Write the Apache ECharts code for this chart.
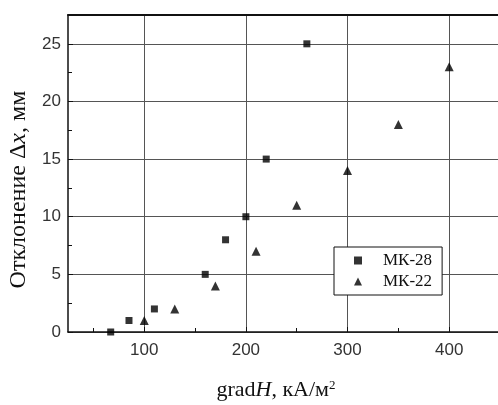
<!DOCTYPE html>
<html><head><meta charset="utf-8">
<script src="https://cdn.jsdelivr.net/npm/echarts@6/dist/echarts.min.js"></script>
<style>html,body{margin:0;padding:0;background:#fff}#c{width:498px;height:405px}</style>
</head><body><div id="c"></div>
<script>
var seriesNames = ['МК-28', 'МК-22'];
var mk28X = [67, 85, 110, 160, 180, 200, 220, 260];
var mk28Y = [0, 1, 2, 5, 8, 10, 15, 25];
var mk22X = [100, 130, 170, 210, 250, 300, 350, 400];
var mk22Y = [1, 2, 4, 7, 11, 14, 18, 23];
var xMajorTicks = [100, 200, 300, 400];
var xMinorTicks = [50, 150, 250, 350];

function pairs(xs, ys) { return xs.map(function (x, i) { return [x, ys[i]]; }); }

var serif = '"Liberation Serif", "DejaVu Serif", serif';
var sans = '"Liberation Sans", Arial, sans-serif';

var chart = echarts.init(document.getElementById('c'));
chart.setOption({
  animation: false,
  backgroundColor: '#fff',
  grid: { left: 68, top: 15, bottom: 73, right: -2, containLabel: false, outerBoundsMode: 'none' },
  xAxis: [
    {
      type: 'value', min: 25, max: 450, position: 'bottom',
      name: '{n|grad}{i|H}{n|, кА/м}{s|2}',
      nameLocation: 'middle', nameGap: 47,
      nameTextStyle: {
        padding: [0, 16, 0, 0],
        rich: {
          n: { fontFamily: serif, fontSize: 22, color: '#111' },
          i: { fontFamily: serif, fontSize: 22, fontStyle: 'italic', color: '#111' },
          s: { fontFamily: serif, fontSize: 13, color: '#111', verticalAlign: 'top' }
        }
      },
      axisLine: { show: true, onZero: false, lineStyle: { color: '#111', width: 1.5 } },
      axisTick: { show: true, inside: true, length: 5, customValues: xMajorTicks, lineStyle: { color: '#111' } },
      axisLabel: { customValues: xMajorTicks, fontFamily: sans, fontSize: 17, color: '#333', margin: 10 },
      splitLine: { show: true, lineStyle: { color: '#555', width: 1 } }
    },
    {
      type: 'value', min: 25, max: 450, position: 'bottom',
      axisLine: { show: false },
      axisTick: { show: true, inside: true, length: 4, customValues: xMinorTicks, lineStyle: { color: '#111' } },
      axisLabel: { show: false },
      splitLine: { show: false }
    },
    {
      type: 'value', min: 25, max: 450, position: 'top',
      axisLine: { show: true, lineStyle: { color: '#111', width: 2 } },
      axisTick: { show: false },
      axisLabel: { show: false },
      splitLine: { show: false }
    }
  ],
  yAxis: {
    type: 'value', min: 0, max: 27.5, interval: 5,
    name: '{n|Отклонение Δ}{i|x}{n|, мм}',
    nameLocation: 'middle', nameGap: 37, nameRotate: 90,
    nameTextStyle: {
      padding: [0, 32, 0, 0],
      rich: {
        n: { fontFamily: serif, fontSize: 24, color: '#111' },
        i: { fontFamily: serif, fontSize: 24, fontStyle: 'italic', color: '#111' }
      }
    },
    axisLine: { show: true, onZero: false, lineStyle: { color: '#111', width: 1.5 } },
    axisTick: { show: true, inside: true, length: 5, lineStyle: { color: '#111' } },
    minorTick: { show: true, splitNumber: 2, length: 4, lineStyle: { color: '#111' } },
    axisLabel: { fontFamily: sans, fontSize: 17, color: '#333', margin: 7, showMaxLabel: false },
    splitLine: { show: true, lineStyle: { color: '#555', width: 1 } }
  },
  legend: {
    orient: 'vertical', left: 334, top: 247,
    data: [
      { name: seriesNames[0], icon: 'rect' },
      { name: seriesNames[1], icon: 'triangle' }
    ],
    backgroundColor: '#fff',
    borderColor: '#111', borderWidth: 1, borderRadius: 0,
    padding: [4, 10, 4, 20],
    itemWidth: 8, itemHeight: 8, itemGap: 2,
    textStyle: { fontFamily: serif, fontSize: 17, color: '#111', lineHeight: 19, padding: [0, 0, 0, 16] }
  },
  series: [
    {
      name: seriesNames[0], type: 'scatter', xAxisIndex: 0,
      symbol: 'rect', symbolSize: 7,
      itemStyle: { color: '#000' },
      data: pairs(mk28X, mk28Y)
    },
    {
      name: seriesNames[1], type: 'scatter', xAxisIndex: 0,
      symbol: 'triangle', symbolSize: 9,
      itemStyle: { color: '#000' },
      data: pairs(mk22X, mk22Y)
    }
  ]
});
</script></body></html>
